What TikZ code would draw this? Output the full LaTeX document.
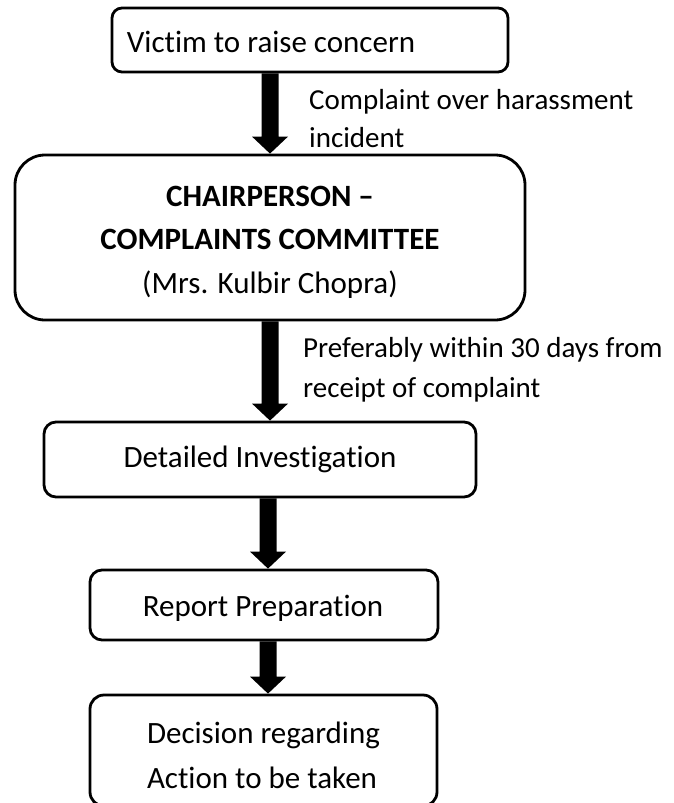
\documentclass[tikz,border=0pt]{standalone}
\usepackage{fontspec}
\setmainfont{Carlito}[Ligatures=NoCommon]
\usetikzlibrary{calc}
\newcommand{\blkarrow}[2]{%
  \fill let \p1=#1, \p2=#2 in
    (\x1-8.5pt,\y1) -- (\x1+8.5pt,\y1) -- (\x1+8.5pt,\y2+17pt) -- (\x1+18pt,\y2+17pt)
    -- (\x1,\y2) -- (\x1-18pt,\y2+17pt) -- (\x1-8.5pt,\y2+17pt) -- cycle;}
\begin{document}
\begin{tikzpicture}[x=1pt,y=-1pt,
  box/.style={draw, line width=2.8pt, rounded corners=#1, inner sep=0pt},
  box/.default=10pt,
  txt/.style={font=\fontsize{31}{38}\selectfont, inner sep=0pt},
  lbl/.style={font=\fontsize{29}{38}\selectfont, inner sep=0pt, anchor=base west}]
\useasboundingbox (0,0) rectangle (673,803);
% boxes
\node[box=10pt, minimum width=396pt, minimum height=64pt] (b1) at (310,40) {};
\node[box=30pt, minimum width=510pt, minimum height=165pt] (b2) at (270,237.5) {};
\node[box=12pt, minimum width=432pt, minimum height=75pt] (b3) at (260,459.5) {};
\node[box=12pt, minimum width=348pt, minimum height=70pt] (b4) at (264,605) {};
\node[box=14pt, minimum width=347pt, minimum height=111pt] (b5) at (263.5,750.5) {};
% texts
\node[txt, anchor=base] (t1) at (271,52) {Victim to raise concern};
\node[txt, anchor=base] (t2a) at (270,206) {\bfseries CHAIRPERSON –};
\node[txt, anchor=base] (t2b) at (270,249) {\bfseries COMPLAINTS COMMITTEE};
\node[txt, anchor=base] (t2c) at (270,293) {(Mrs. Kulbir Chopra)};
\node[txt, anchor=base] (t3) at (260,467) {Detailed Investigation};
\node[txt, anchor=base] (t4) at (263,616) {Report Preparation};
\node[txt, anchor=base] (t5a) at (263.5,743) {Decision regarding};
\node[txt, anchor=base] (t5b) at (262,788) {Action to be taken};
% arrow labels
\node[lbl] (l1a) at (309,109) {Complaint over harassment};
\node[lbl] (l1b) at (309,147) {incident};
\node[lbl] (l2a) at (303,357) {Preferably within 30 days from};
\node[lbl] (l2b) at (303,397) {receipt of complaint};
% arrows
\blkarrow{(b1.south -| b2.north)}{(b2.north)}
\blkarrow{(b2.south)}{(b3.north -| b2.south)}
\blkarrow{([xshift=-2pt]b3.south -| b2.south)}{([xshift=-2pt]b4.north -| b2.south)}
\blkarrow{([xshift=-2pt]b4.south -| b2.south)}{([xshift=-2pt]b5.north -| b2.south)}
\end{tikzpicture}
\end{document}
